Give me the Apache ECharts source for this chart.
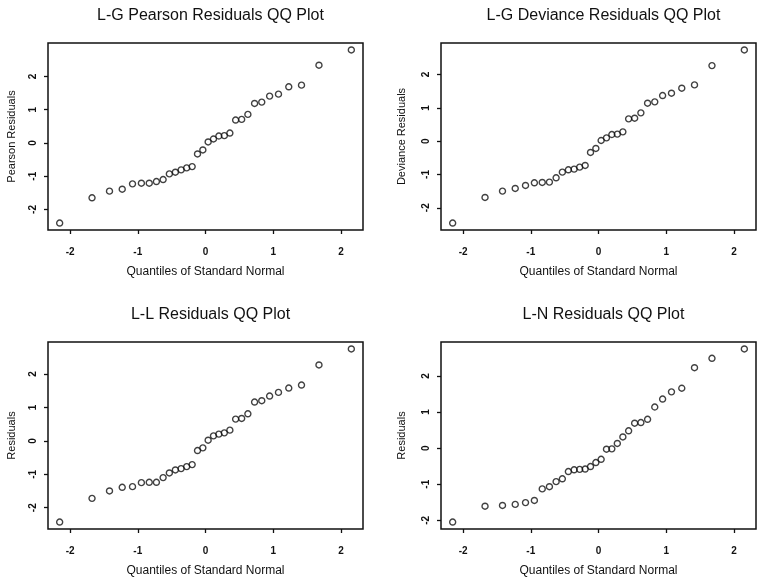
<!DOCTYPE html>
<html><head><meta charset="utf-8">
<script src="https://cdn.jsdelivr.net/npm/echarts@6/dist/echarts.min.js"></script>
<style>html,body{margin:0;padding:0;background:#fff}#c{width:760px;height:583px}</style>
</head><body><div id="c"></div>
<script>
// Theoretical normal quantiles (x values, 32 points)
const quantiles = [-2.154,-1.676,-1.418,-1.230,-1.078,-0.947,-0.831,-0.725,-0.626,-0.534,-0.445,-0.360,-0.278,-0.197,-0.118,-0.039,0.039,0.118,0.197,0.278,0.360,0.445,0.534,0.626,0.725,0.831,0.947,1.078,1.230,1.418,1.676,2.154];
const pearsonLG = [-2.41,-1.65,-1.45,-1.39,-1.23,-1.21,-1.21,-1.16,-1.10,-0.93,-0.88,-0.81,-0.75,-0.71,-0.33,-0.21,0.03,0.12,0.21,0.22,0.30,0.69,0.71,0.86,1.19,1.23,1.41,1.47,1.69,1.74,2.34,2.80];
const devianceLG = [-2.46,-1.69,-1.50,-1.42,-1.33,-1.25,-1.24,-1.23,-1.10,-0.93,-0.86,-0.84,-0.78,-0.73,-0.34,-0.22,0.02,0.10,0.20,0.21,0.28,0.67,0.69,0.85,1.14,1.18,1.37,1.44,1.59,1.69,2.27,2.74];
const residLL = [-2.43,-1.72,-1.50,-1.39,-1.37,-1.25,-1.24,-1.24,-1.10,-0.96,-0.87,-0.83,-0.77,-0.71,-0.29,-0.21,0.02,0.15,0.20,0.24,0.32,0.65,0.67,0.81,1.16,1.20,1.34,1.45,1.58,1.67,2.27,2.75];
const residLN = [-2.05,-1.61,-1.59,-1.56,-1.51,-1.45,-1.13,-1.07,-0.93,-0.85,-0.65,-0.60,-0.59,-0.58,-0.51,-0.40,-0.31,-0.03,-0.02,0.13,0.31,0.48,0.69,0.71,0.80,1.14,1.36,1.56,1.66,2.23,2.49,2.75];
const tickValues = [-2,-1,0,1,2];
const titles = ['L-G Pearson Residuals QQ Plot','L-G Deviance Residuals QQ Plot','L-L Residuals QQ Plot','L-N Residuals QQ Plot'];
const yNames = ['Pearson Residuals','Deviance Residuals','Residuals','Residuals'];
const xName = 'Quantiles of Standard Normal';
const panelsData = [pearsonLG, devianceLG, residLL, residLN];

const FONT = 'Liberation Sans, Arial, sans-serif';
const grids = [
  {left:48, top:43, width:315, height:187},
  {left:441, top:43, width:315, height:187},
  {left:48, top:342, width:315, height:187},
  {left:441, top:342, width:315, height:187}
];
const yGaps = [31, 34, 31, 34];

function padRange(arr){
  const mn = Math.min(...arr), mx = Math.max(...arr);
  const p = (mx - mn) * 0.04;
  return [mn - p, mx + p];
}
const xr = padRange(quantiles);

const option = {
  backgroundColor:'#fff',
  animation:false,
  title: grids.map((g,i)=>({
    text: titles[i], left: g.left + g.width/2, top: g.top - 40, textAlign:'center',
    textStyle:{fontFamily:FONT, fontSize:16, fontWeight:'normal', color:'#111'}
  })),
  grid: grids.map(g=>Object.assign({show:true, borderColor:'#111', borderWidth:1.5, backgroundColor:'transparent'}, g)),
  xAxis: grids.map((g,i)=>({
    type:'value', gridIndex:i, min:xr[0], max:xr[1],
    name:xName, nameLocation:'middle', nameGap:36,
    nameTextStyle:{fontFamily:FONT, fontSize:12, color:'#111'},
    axisLine:{show:false, onZero:false}, splitLine:{show:false},
    axisTick:{show:true, length:4, customValues:tickValues, lineStyle:{color:'#111', width:1.3}},
    axisLabel:{customValues:tickValues, margin:17, fontFamily:FONT, fontSize:10, fontWeight:'bold', color:'#111'}
  })),
  yAxis: grids.map((g,i)=>{
    const yr = padRange(panelsData[i]);
    return {
      type:'value', gridIndex:i, min:yr[0], max:yr[1],
      name:yNames[i], nameLocation:'middle', nameGap:yGaps[i],
      nameTextStyle:{fontFamily:FONT, fontSize:11, color:'#111'},
      axisLine:{show:false, onZero:false}, splitLine:{show:false},
      axisTick:{show:true, length:4, customValues:tickValues, lineStyle:{color:'#111', width:1.3}},
      axisLabel:{customValues:tickValues, rotate:90, margin:10, fontFamily:FONT, fontSize:10, fontWeight:'bold', color:'#111'}
    };
  }),
  series: panelsData.map((d,i)=>({
    type:'scatter', xAxisIndex:i, yAxisIndex:i,
    data: quantiles.map((q,k)=>[q, d[k]]),
    symbol:'circle', symbolSize:6,
    itemStyle:{color:'rgba(255,255,255,0)', borderColor:'#111', borderWidth:1.4}
  }))
};
const chart = echarts.init(document.getElementById('c'), null, {renderer:'canvas'});
chart.setOption(option);
</script></body></html>
